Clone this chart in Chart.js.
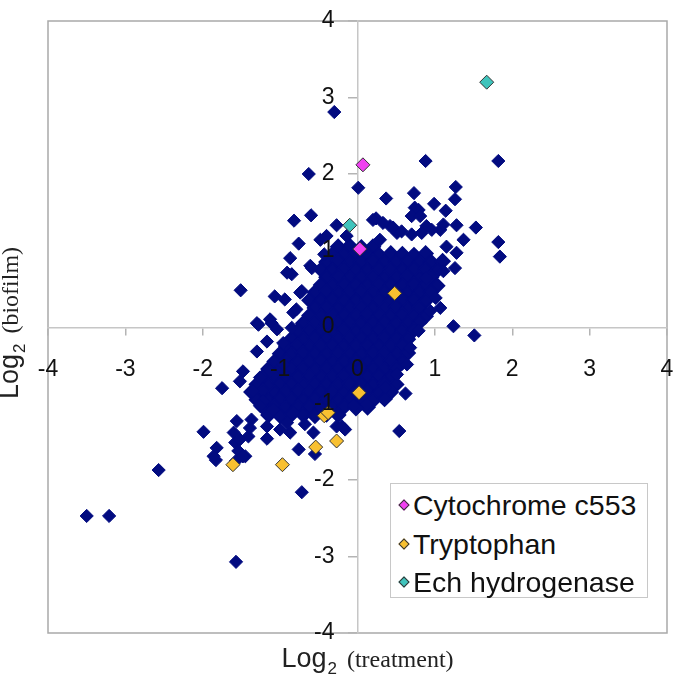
<!DOCTYPE html>
<html>
<head>
<meta charset="utf-8">
<script src="https://cdn.jsdelivr.net/npm/chart.js@4.4.1/dist/chart.umd.min.js"></script>
<style>
  html, body { margin:0; padding:0; background:#fff; }
  #wrap { position:relative; width:685px; height:685px; }
  #legend { position:absolute; left:390px; top:483px; width:258px; height:115px;
    border:1.5px solid #c8c8c8; background:#fff; box-sizing:border-box;
    font-family:"Liberation Sans", Arial, sans-serif; font-size:28.5px; color:#111; padding-top:2px; }
  #legend .row { height:38.5px; line-height:38.5px; white-space:nowrap; position:relative; padding-left:22px; }
  #legend .mk { position:absolute; left:9px; top:15px; width:6px; height:6px; transform:rotate(45deg);
    border:1px solid #333; }
</style>
</head>
<body>
<div id="wrap">
  <canvas id="c" width="685" height="685"></canvas>
  <div id="legend"></div>
</div>
<script>
// ---- data (log2 treatment, log2 biofilm) ----
const axisTicks = [-4, -3, -2, -1, 0, 1, 2, 3, 4];

const cytochromeC553 = [[0.07, 2.12], [0.03, 1.02]];
const tryptophan = [[0.48, 0.44], [0.02, -0.86], [-0.43, -1.16], [-0.38, -1.12],
  [-0.54, -1.57], [-0.27, -1.49], [-0.97, -1.80], [-1.61, -1.80]];
const echHydrogenase = [[1.67, 3.20], [-0.10, 1.33]];

const scatteredGenes = [
  [-0.30,2.81],[-0.63,2.00],[0.01,1.82],[0.88,2.17],[1.82,2.17],[0.37,1.68],[0.73,1.75],[1.27,1.83],
  [1.26,1.67],[0.99,1.61],[1.14,1.52],[0.79,1.53],[0.74,1.56],[0.70,1.45],[0.81,1.45],[0.24,1.42],
  [-0.27,1.33],[1.28,1.33],[1.53,1.30],[1.07,1.27],[0.89,1.32],[1.37,1.14],[1.82,1.11],[1.84,0.92],
  [0.29,1.14],[0.42,1.32],[0.51,1.23],[1.15,1.05],[1.28,0.97],
  [0.20,1.40],[0.33,1.36],[0.46,1.30],[0.57,1.25],[0.70,1.21],[0.83,1.23],[0.96,1.27],[1.11,1.34],
  [-0.82,1.39],[-0.60,1.46],[-0.76,1.09],[-0.48,1.14],[-0.43,0.95],[-0.87,0.90],[-0.61,0.80],
  [-0.72,0.47],[-0.85,0.69],[-0.59,0.77],[-0.14,1.19],[-0.40,1.19],[-0.91,0.71],[-0.74,0.45],
  [-0.83,0.19],[-1.13,0.10],[-1.30,0.05],
  [-1.51,0.48],[-1.07,0.40],[-0.94,0.36],[-0.79,0.23],[-1.28,0.03],[-1.11,0.05],[-1.04,-0.03],
  [-1.17,-0.19],[-1.30,-0.32],[-0.96,-0.21],[-0.85,-0.01],[-1.48,-0.58],[-1.52,-0.71],[-1.75,-0.80],
  [-1.35,-0.84],[-1.26,-0.66],[-1.13,-0.58],[-1.22,-0.97],[-0.96,-0.49],
  [1.24,0.01],[1.51,-0.11],[1.01,0.38],[1.07,0.25],[0.94,0.21],[1.26,0.77],[1.11,0.73],[0.89,0.64],
  [0.79,-0.05],[0.64,-0.49],[0.62,-0.87],[0.68,-0.27],[0.51,-0.62],[0.36,-0.79],[0.12,-1.01],
  [-0.01,-1.06],[0.54,-1.36],
  [-1.99,-1.37],[-2.57,-1.87],[-3.50,-2.47],[-3.21,-2.47],[-1.57,-3.07],[-0.72,-2.16],[-1.82,-1.58],
  [-1.83,-1.74],[-1.57,-1.75],[-1.45,-1.69],[-1.56,-1.23],[-1.37,-1.21],[-1.60,-1.38],[-1.41,-1.43],
  [-1.58,-1.51],[-1.54,-1.62],[-1.17,-1.30],[-1.17,-1.46],[-1.00,-1.34],[-0.87,-1.38],[-0.76,-1.60],
  [-0.68,-1.27],[-0.55,-1.66],[-0.27,-1.30],[-0.16,-1.34],[-0.05,-1.03],[-1.26,-1.03],[-1.09,-1.08],
  [-0.83,-1.12],[-0.91,-1.25],[-0.57,-1.38],[-0.20,-1.30],[-1.39,-1.32],[-1.86,-1.69],[-1.48,-1.69],
  [-1.52,-1.47]
];

const clusterGenes = [
  [-0.25,1.05],[-0.10,1.06],[0.05,1.04],[0.20,1.05],
  [-0.32,0.95],[-0.17,0.94],[-0.02,0.96],[0.13,0.95],[0.28,0.94],[0.43,0.96],[0.58,0.95],[0.73,0.94],[0.88,0.96],
  [-0.40,0.85],[-0.25,0.86],[-0.10,0.84],[0.05,0.85],[0.20,0.86],[0.35,0.84],[0.50,0.85],[0.65,0.86],[0.80,0.84],[0.95,0.85],[1.10,0.86],
  [-0.47,0.75],[-0.32,0.74],[-0.17,0.76],[-0.02,0.75],[0.13,0.74],[0.28,0.76],[0.43,0.75],[0.58,0.74],[0.73,0.76],[0.88,0.75],[1.03,0.74],
  [-0.40,0.65],[-0.25,0.66],[-0.10,0.64],[0.05,0.65],[0.20,0.66],[0.35,0.64],[0.50,0.65],[0.65,0.66],[0.80,0.64],[0.95,0.65],
  [-0.47,0.55],[-0.32,0.54],[-0.17,0.56],[-0.02,0.55],[0.13,0.54],[0.28,0.56],[0.43,0.55],[0.58,0.54],[0.73,0.56],[0.88,0.55],[1.03,0.54],
  [-0.55,0.45],[-0.40,0.46],[-0.25,0.44],[-0.10,0.45],[0.05,0.46],[0.20,0.44],[0.35,0.45],[0.50,0.46],[0.65,0.44],[0.80,0.45],[0.95,0.46],
  [-0.62,0.35],[-0.47,0.34],[-0.32,0.36],[-0.17,0.35],[-0.02,0.34],[0.13,0.36],[0.28,0.35],[0.43,0.34],[0.58,0.36],[0.73,0.35],[0.88,0.34],
  [-0.55,0.25],[-0.40,0.26],[-0.25,0.24],[-0.10,0.25],[0.05,0.26],[0.20,0.24],[0.35,0.25],[0.50,0.26],[0.65,0.24],[0.80,0.25],
  [-0.62,0.15],[-0.47,0.14],[-0.32,0.16],[-0.17,0.15],[-0.02,0.14],[0.13,0.16],[0.28,0.15],[0.43,0.14],[0.58,0.16],[0.73,0.15],[0.88,0.14],
  [-0.70,0.05],[-0.55,0.06],[-0.40,0.04],[-0.25,0.05],[-0.10,0.06],[0.05,0.04],[0.20,0.05],[0.35,0.06],[0.50,0.04],[0.65,0.05],[0.80,0.06],
  [-0.77,-0.05],[-0.62,-0.04],[-0.47,-0.06],[-0.32,-0.05],[-0.17,-0.04],[-0.02,-0.06],[0.13,-0.05],[0.28,-0.04],[0.43,-0.06],[0.58,-0.05],[0.73,-0.04],
  [-0.85,-0.15],[-0.70,-0.16],[-0.55,-0.14],[-0.40,-0.15],[-0.25,-0.16],[-0.10,-0.14],[0.05,-0.15],[0.20,-0.16],[0.35,-0.14],[0.50,-0.15],[0.65,-0.16],
  [-0.92,-0.25],[-0.77,-0.24],[-0.62,-0.26],[-0.47,-0.25],[-0.32,-0.24],[-0.17,-0.26],[-0.02,-0.25],[0.13,-0.24],[0.28,-0.26],[0.43,-0.25],[0.58,-0.24],
  [-1.00,-0.35],[-0.85,-0.36],[-0.70,-0.34],[-0.55,-0.35],[-0.40,-0.36],[-0.25,-0.34],[-0.10,-0.35],[0.05,-0.36],[0.20,-0.34],[0.35,-0.35],[0.50,-0.36],[0.65,-0.34],
  [-1.07,-0.45],[-0.92,-0.44],[-0.77,-0.46],[-0.62,-0.45],[-0.47,-0.44],[-0.32,-0.46],[-0.17,-0.45],[-0.02,-0.44],[0.13,-0.46],[0.28,-0.45],[0.43,-0.44],[0.58,-0.46],
  [-1.15,-0.55],[-1.00,-0.56],[-0.85,-0.54],[-0.70,-0.55],[-0.55,-0.56],[-0.40,-0.54],[-0.25,-0.55],[-0.10,-0.56],[0.05,-0.54],[0.20,-0.55],[0.35,-0.56],[0.50,-0.54],
  [-1.22,-0.65],[-1.07,-0.64],[-0.92,-0.66],[-0.77,-0.65],[-0.62,-0.64],[-0.47,-0.66],[-0.32,-0.65],[-0.17,-0.64],[-0.02,-0.66],[0.13,-0.65],[0.28,-0.64],[0.43,-0.66],
  [-1.30,-0.75],[-1.15,-0.76],[-1.00,-0.74],[-0.85,-0.75],[-0.70,-0.76],[-0.55,-0.74],[-0.40,-0.75],[-0.25,-0.76],[-0.10,-0.74],[0.05,-0.75],[0.20,-0.76],[0.35,-0.74],[0.50,-0.75],
  [-1.37,-0.85],[-1.22,-0.84],[-1.07,-0.86],[-0.92,-0.85],[-0.77,-0.84],[-0.62,-0.86],[-0.47,-0.85],[-0.32,-0.84],[-0.17,-0.86],[-0.02,-0.85],[0.13,-0.84],[0.28,-0.86],[0.43,-0.85],
  [-1.30,-0.95],[-1.15,-0.96],[-1.00,-0.94],[-0.85,-0.95],[-0.70,-0.96],[-0.55,-0.94],[-0.40,-0.95],[-0.25,-0.96],[-0.10,-0.94],[0.05,-0.95],[0.20,-0.96],[0.35,-0.94],
  [-1.22,-1.05],[-1.07,-1.04],[-0.92,-1.06],[-0.77,-1.05],[-0.62,-1.04],[-0.47,-1.06],[-0.32,-1.05],[-0.17,-1.04],[-0.02,-1.06],[0.13,-1.05],
  [-1.15,-1.15],[-1.00,-1.16],[-0.85,-1.14],[-0.70,-1.15],[-0.55,-1.16],[-0.40,-1.14],[-0.25,-1.15]
];

const seriesLabels = ['Cytochrome c553', 'Tryptophan', 'Ech hydrogenase'];
const xTitle = ['Log', '2', '(treatment)'];
const yTitle = ['Log', '2', '(biofilm)'];

// ---- chart ----
const toPts = arr => arr.map(p => ({x: p[0], y: p[1]}));
const NAVY = '#020b80';

const frameAndTitles = {
  id: 'frameAndTitles',
  beforeDraw(chart) {
    const {ctx, chartArea: a} = chart;
    ctx.save();
    ctx.strokeStyle = '#a9a9a9';
    ctx.lineWidth = 1.5;
    ctx.strokeRect(a.left, a.top, a.right - a.left, a.bottom - a.top);
    ctx.restore();
  },
  afterDraw(chart) {
    const {ctx, chartArea: a} = chart;
    const parts = (t) => [
      {t: t[0], f: '27px "Liberation Sans", Arial, sans-serif', dy: 0, gap: 1},
      {t: t[1], f: '17px "Liberation Sans", Arial, sans-serif', dy: 7, gap: 10},
      {t: t[2], f: '24px "Liberation Serif", "Times New Roman", serif', dy: 0, gap: 0}
    ];
    const drawLine = (segs) => {
      let w = 0;
      segs.forEach(s => { ctx.font = s.f; s.w = ctx.measureText(s.t).width; w += s.w + s.gap; });
      let x = -w / 2;
      segs.forEach(s => { ctx.font = s.f; ctx.fillText(s.t, x, s.dy); x += s.w + s.gap; });
    };
    ctx.save();
    ctx.fillStyle = '#222';
    ctx.textBaseline = 'alphabetic';
    ctx.textAlign = 'left';
    ctx.save();
    ctx.translate((a.left + a.right) / 2 + 10, a.bottom + 34);
    drawLine(parts(xTitle));
    ctx.restore();
    ctx.save();
    ctx.translate(a.left - 30, (a.top + a.bottom) / 2 - 4);
    ctx.rotate(-Math.PI / 2);
    drawLine(parts(yTitle));
    ctx.restore();
    ctx.restore();
  }
};

const tickFont = {family: '"Liberation Sans", Arial, sans-serif', size: 23};
const noPad = s => { s.paddingTop = 0; s.paddingBottom = 0; s.paddingLeft = 0; s.paddingRight = 0; };
const fixedTicks = s => { s.ticks = axisTicks.map(v => ({value: v})); };

const chart = new Chart(document.getElementById('c'), {
  type: 'scatter',
  data: {
    datasets: [
      {label: seriesLabels[0], data: toPts(cytochromeC553), backgroundColor: '#f040f0', borderColor: '#333', borderWidth: 1, pointStyle: 'rectRot', pointRadius: 7},
      {label: seriesLabels[1], data: toPts(tryptophan), backgroundColor: '#f8c030', borderColor: '#333', borderWidth: 1, pointStyle: 'rectRot', pointRadius: 7},
      {label: seriesLabels[2], data: toPts(echHydrogenase), backgroundColor: '#40c4bc', borderColor: '#333', borderWidth: 1, pointStyle: 'rectRot', pointRadius: 7},
      {label: '', data: toPts(scatteredGenes), backgroundColor: NAVY, borderColor: NAVY, borderWidth: 1, pointStyle: 'rectRot', pointRadius: 6.6},
      {label: '', data: toPts(clusterGenes), backgroundColor: NAVY, borderColor: NAVY, borderWidth: 1.5, pointStyle: 'rectRot', pointRadius: 7.4}
    ]
  },
  options: {
    responsive: false,
    animation: false,
    devicePixelRatio: 1,
    events: [],
    layout: {padding: {left: 48, top: 21, right: 18, bottom: 52}},
    plugins: {legend: {display: false}, tooltip: {enabled: false}},
    scales: {
      x: {
        type: 'linear', min: -4, max: 4, position: 'center',
        afterBuildTicks: fixedTicks, afterFit: noPad,
        ticks: {font: tickFont, color: '#111', padding: 22, z: 1, autoSkip: false, maxRotation: 0},
        grid: {display: true, drawOnChartArea: false, drawTicks: true, tickLength: 7, color: '#b4b4b4', lineWidth: 1.5},
        border: {display: true, color: '#c6c6c6', width: 1.5}
      },
      y: {
        type: 'linear', min: -4, max: 4, position: 'center',
        afterBuildTicks: fixedTicks, afterFit: noPad,
        ticks: {font: tickFont, color: '#111', padding: 14, z: 1, autoSkip: false},
        grid: {display: true, drawOnChartArea: false, drawTicks: true, tickLength: 9, color: '#b4b4b4', lineWidth: 1.5},
        border: {display: true, color: '#c6c6c6', width: 1.5}
      }
    }
  },
  plugins: [frameAndTitles]
});

// HTML legend from the labelled datasets
const legendEl = document.getElementById('legend');
chart.data.datasets.filter(d => d.label).forEach(d => {
  const row = document.createElement('div');
  row.className = 'row';
  const mk = document.createElement('span');
  mk.className = 'mk';
  mk.style.background = d.backgroundColor;
  row.appendChild(mk);
  row.appendChild(document.createTextNode(d.label));
  legendEl.appendChild(row);
});
</script>
</body>
</html>
